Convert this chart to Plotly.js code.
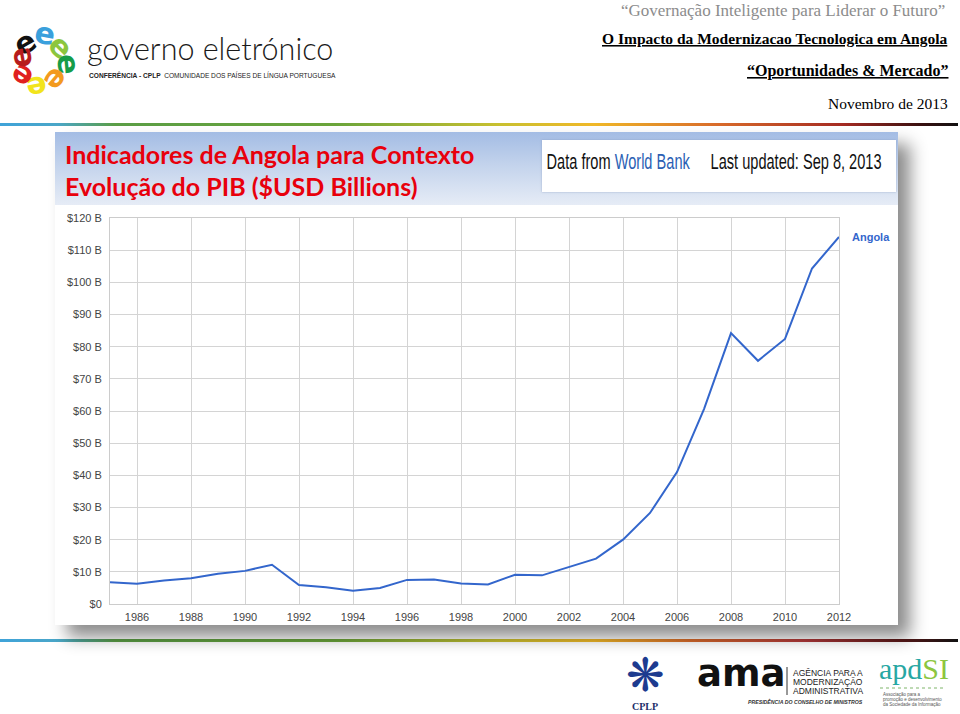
<!DOCTYPE html>
<html>
<head>
<meta charset="utf-8">
<script src="https://cdn.plot.ly/plotly-3.0.1.min.js"></script>
<style>
  html, body { margin: 0; padding: 0; background: #ffffff; }
  #wrap { position: relative; width: 960px; height: 714px; overflow: hidden; background: #fff; }
  .bg { position: absolute; }
  #topline { left: 0; top: 123px; width: 958px; height: 3px;
    background: linear-gradient(to right, #3fa3d9 0%, #4aa6c8 6%, #5a9d45 12%, #6aa43a 35%, #c8c030 52%, #f0b828 62%, #d86a2a 75%, #a42a22 88%, #3a1010 96%, #111 100%); }
  #botline { left: 0; top: 639px; width: 958px; height: 3px;
    background: linear-gradient(to right, #3fa3d9 0%, #4aa6c8 6%, #5a9d45 12%, #6aa43a 35%, #c8c030 52%, #f0b828 62%, #d86a2a 72%, #b2383a 84%, #5a1818 94%, #111 100%); }
  #panel { left: 55px; top: 132px; width: 843px; height: 493px; background: #fff;
    box-shadow: 12px 12px 16px rgba(0,0,0,0.45); }
  #titlebox { left: 55px; top: 132px; width: 843px; height: 73px;
    background: linear-gradient(to bottom, #a3bce4 0%, #c3d3ec 45%, #e6ecf6 100%); }
  #banner { left: 542px; top: 140px; width: 354px; height: 52px; background: #fff;
    box-shadow: 0 0 2px rgba(120,140,180,0.6); }
  #chart { position: absolute; left: 0; top: 0; width: 960px; height: 714px; }
</style>
</head>
<body>
<div id="wrap">
  <div class="bg" id="topline"></div>
  <div class="bg" id="botline"></div>
  <div class="bg" id="panel"></div>
  <div class="bg" id="titlebox"></div>
  <div class="bg" id="banner"></div>
  <div id="chart"></div>
</div>
<script>
// ---------------- DATA ----------------
const years = [1985, 1986, 1987, 1988, 1989, 1990, 1991, 1992, 1993, 1994,
               1995, 1996, 1997, 1998, 1999, 2000, 2001, 2002, 2003, 2004,
               2005, 2006, 2007, 2008, 2009, 2010, 2011, 2012];
const gdpBillions = [6.8, 6.3, 7.3, 8.0, 9.4, 10.3, 12.2, 5.9, 5.2, 4.1,
                     5.0, 7.5, 7.6, 6.4, 6.1, 9.1, 8.9, 11.5, 14.1, 20.0,
                     28.3, 41.0, 60.6, 84.2, 75.6, 82.4, 104.3, 114.1];
const seriesName = "Angola";
const xTickVals = [1986, 1988, 1990, 1992, 1994, 1996, 1998, 2000, 2002, 2004, 2006, 2008, 2010, 2012];
const xTickText = ["1986", "1988", "1990", "1992", "1994", "1996", "1998", "2000", "2002", "2004", "2006", "2008", "2010", "2012"];
const yTickVals = [0, 10, 20, 30, 40, 50, 60, 70, 80, 90, 100, 110, 120];
const yTickText = ["$0", "$10 B", "$20 B", "$30 B", "$40 B", "$50 B", "$60 B", "$70 B", "$80 B", "$90 B", "$100 B", "$110 B", "$120 B"];

const headerLines = ["\u201cGovernação Inteligente para Liderar o Futuro\u201d",
                     "O Impacto da Modernizacao Tecnologica em Angola",
                     "\u201cOportunidades & Mercado\u201d",
                     "Novembro de 2013"];
const titleLines = ["Indicadores de Angola para Contexto", "Evolução do PIB ($USD Billions)"];
const sourceText = 'Data from <span style="color:#2b5fb4">World Bank</span>';
const updatedText = 'Last updated: Sep 8, 2013';

// ---------------- LAYOUT HELPERS ----------------
const W = 960, H = 714;
const M = {l: 110, r: 121, t: 218, b: 110};
const PW = W - M.l - M.r, PH = H - M.t - M.b;
const px = x => (x - M.l) / PW;          // pixel -> paper x
const py = y => (H - M.b - y) / PH;      // pixel -> paper y

function txt(x, y, text, opts) {
  return Object.assign({
    xref: 'paper', yref: 'paper', x: px(x), y: py(y), text: text,
    showarrow: false, xanchor: 'left', yanchor: 'middle',
    font: {family: 'Liberation Sans, Arial, sans-serif', size: 12, color: '#000'}
  }, opts || {});
}

const serif = 'Liberation Serif, DejaVu Serif, serif';
const annotations = [];

// header right
annotations.push(txt(947, 10, headerLines[0], {xanchor: 'right', font: {family: serif, size: 17, color: '#8c8c8c'}}));
annotations.push(txt(950, 39, '<u>' + headerLines[1] + '</u>', {xanchor: 'right', font: {family: serif, size: 15.5, color: '#000', weight: 700}}));
annotations.push(txt(950, 71, '<u>' + headerLines[2] + '</u>', {xanchor: 'right', font: {family: serif, size: 16, color: '#000', weight: 700}}));
annotations.push(txt(950, 103, headerLines[3], {xanchor: 'right', font: {family: serif, size: 15.5, color: '#000'}}));

// governo eletronico logo: petals made of "e"
const petals = [
  {x: 25, y: 43, c: '#111111', a: -30},
  {x: 45, y: 33, c: '#3aa0dc', a: 10},
  {x: 61, y: 46, c: '#8cc63e', a: 45},
  {x: 68, y: 64, c: '#169c48', a: 85},
  {x: 57, y: 80, c: '#f39a1e', a: 130},
  {x: 37, y: 87, c: '#f2e41c', a: 170},
  {x: 21, y: 77, c: '#e02020', a: 215},
  {x: 20, y: 58, c: '#b71c1c', a: 260}
];
petals.forEach(p => annotations.push(txt(p.x, p.y, 'e', {xanchor: 'center', textangle: p.a, borderpad: 0,
  font: {family: 'DejaVu Sans, sans-serif', size: 30, color: p.c, weight: 700}})));
annotations.push(txt(85, 48, 'governo eletrónico', {font: {family: 'Lato, sans-serif', size: 30.5, color: '#1a1a1a', weight: 300}}));
annotations.push(txt(87, 75, '<b>CONFERÊNCIA - CPLP</b>  COMUNIDADE DOS PAÍSES DE LÍNGUA PORTUGUESA',
  {font: {family: 'Liberation Sans, sans-serif', size: 6.6, color: '#222'}}));

// panel title
annotations.push(txt(63, 154, titleLines[0], {font: {family: 'Lato, Open Sans, sans-serif', size: 25, color: '#e8000c', weight: 700}}));
annotations.push(txt(63, 186, titleLines[1], {font: {family: 'Lato, Open Sans, sans-serif', size: 25, color: '#e8000c', weight: 700}}));

// banner (condensed horizontally after render, Arial Narrow look)
const bannerStart = annotations.length;
annotations.push(txt(618, 162, sourceText, {xanchor: 'center', borderpad: 0, font: {family: 'Liberation Sans, sans-serif', size: 22, color: '#111'}}));
annotations.push(txt(795.5, 162, updatedText, {xanchor: 'center', borderpad: 0, font: {family: 'Liberation Sans, sans-serif', size: 22, color: '#111'}}));
const bannerLengths = [144, 171];

// series label
annotations.push({xref: 'x', yref: 'y', x: years[years.length - 1], y: gdpBillions[gdpBillions.length - 1],
  text: '<b>' + seriesName + '</b>', showarrow: false, xanchor: 'left', yanchor: 'middle', xshift: 11,
  font: {family: 'Liberation Sans, Arial, sans-serif', size: 11, color: '#3366cc'}});

// bottom logos
annotations.push(txt(645, 675, '❋', {xanchor: 'center', borderpad: 0, font: {family: 'DejaVu Sans, sans-serif', size: 46, color: '#1d3b8f'}}));
annotations.push(txt(645, 706, '<b>CPLP</b>', {xanchor: 'center', font: {family: serif, size: 10, color: '#1d2f6a'}}));
annotations.push(txt(696, 696, '<b>ama</b>', {yanchor: 'bottom', borderpad: 0, font: {family: 'DejaVu Sans, sans-serif', size: 37, color: '#111'}}));
annotations.push(txt(791, 673, 'AGÊNCIA PARA A', {font: {family: 'Liberation Sans, sans-serif', size: 8.5, color: '#222'}}));
annotations.push(txt(791, 682, 'MODERNIZAÇÃO', {font: {family: 'Liberation Sans, sans-serif', size: 8.5, color: '#222'}}));
annotations.push(txt(791, 691, 'ADMINISTRATIVA', {font: {family: 'Liberation Sans, sans-serif', size: 8.5, color: '#222'}}));
annotations.push(txt(746, 701, '<b><i>PRESIDÊNCIA DO CONSELHO DE MINISTROS</i></b>', {font: {family: 'Liberation Sans, sans-serif', size: 5.2, color: '#333'}}));
annotations.push(txt(877, 668, 'apd<span style="color:#8dc63f">SI</span>', {font: {family: serif, size: 30, color: '#27a7a3'}}));
annotations.push(txt(881, 694, 'Associação para a', {font: {family: 'Liberation Sans, sans-serif', size: 4.5, color: '#555'}}));
annotations.push(txt(881, 699, 'promoção e desenvolvimento', {font: {family: 'Liberation Sans, sans-serif', size: 4.5, color: '#555'}}));
annotations.push(txt(881, 704, 'da Sociedade da Informação', {font: {family: 'Liberation Sans, sans-serif', size: 4.5, color: '#555'}}));

const shapes = [
  {type: 'line', xref: 'paper', yref: 'paper', x0: px(787), x1: px(787), y0: py(667), y1: py(695), line: {color: '#333', width: 1}},
  {type: 'line', xref: 'paper', yref: 'paper', x0: px(880), x1: px(945), y0: py(688), y1: py(688), line: {color: '#7fb56a', width: 1, dash: 'dot'}}
];

const trace = {
  x: years, y: gdpBillions, type: 'scatter', mode: 'lines', name: seriesName,
  line: {color: '#3366cc', width: 2}, hoverinfo: 'skip'
};

const axisFont = {family: 'Liberation Sans, Arial, sans-serif', size: 11, color: '#444'};
const layout = {
  width: W, height: H, margin: M,
  paper_bgcolor: 'rgba(0,0,0,0)', plot_bgcolor: 'rgba(0,0,0,0)',
  showlegend: false,
  xaxis: {range: [years[0], years[years.length - 1]], tickvals: xTickVals, ticktext: xTickText,
    showgrid: true, gridcolor: '#d4d4d4', gridwidth: 1, zeroline: false,
    showline: true, linecolor: '#cccccc', mirror: true, ticks: '', tickfont: axisFont, ticklabelstandoff: 3},
  yaxis: {range: [0, 120], tickvals: yTickVals, ticktext: yTickText,
    showgrid: true, gridcolor: '#d4d4d4', gridwidth: 1, zeroline: false,
    showline: true, linecolor: '#cccccc', mirror: true, ticks: '', tickfont: axisFont, ticklabelstandoff: 5},
  annotations: annotations,
  shapes: shapes
};

Plotly.newPlot('chart', [trace], layout, {displayModeBar: false, staticPlot: true}).then(gd => {
  bannerLengths.forEach((len, i) => {
    const g = gd.querySelector('g.annotation[data-index="' + (bannerStart + i) + '"]');
    if (!g) return;
    const t = g.querySelector('text.annotation-text');
    if (!t) return;
    const bb = t.getBBox();
    if (!bb.width) return;
    const sx = len / bb.width;
    const cx = bb.x + bb.width / 2;
    t.setAttribute('transform', 'translate(' + cx + ',0) scale(' + sx + ',1) translate(' + (-cx) + ',0)');
    g.querySelectorAll('rect').forEach(r => {
      const w = parseFloat(r.getAttribute('width'));
      const x = parseFloat(r.getAttribute('x') || 0);
      if (!isNaN(w) && w > len) {
        r.setAttribute('x', x + (w - len) / 2);
        r.setAttribute('width', len);
      }
    });
  });
});
</script>
</body>
</html>
